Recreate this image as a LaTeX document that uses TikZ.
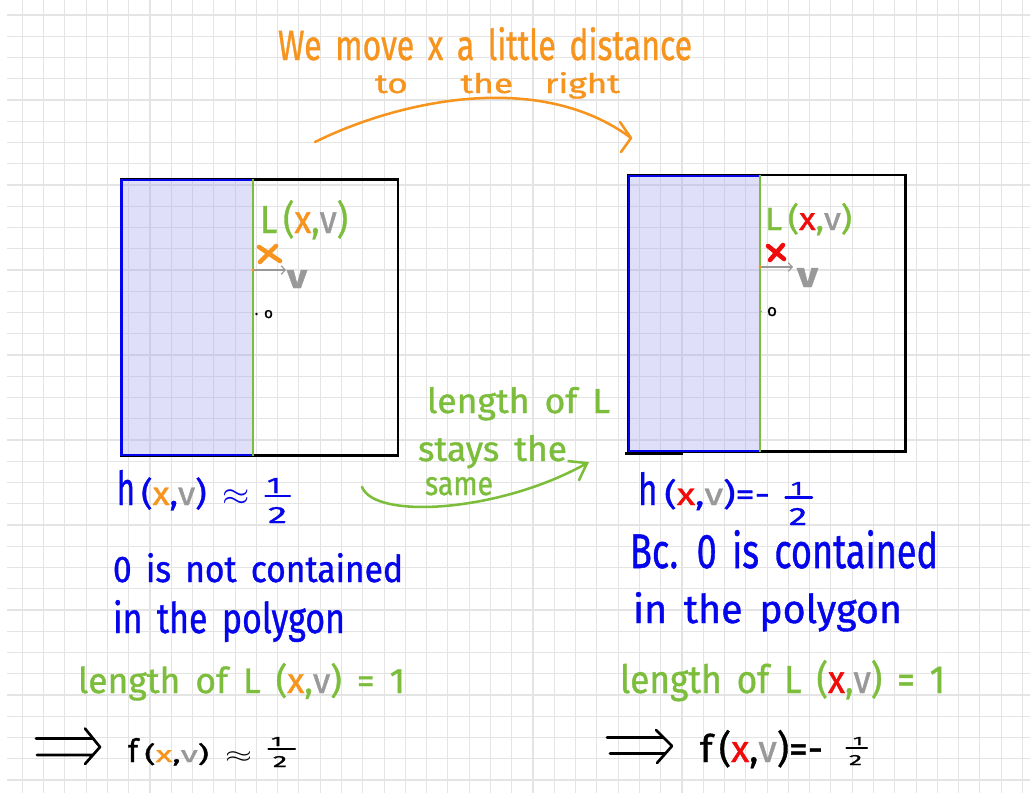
\documentclass[tikz,border=0pt]{standalone}
\usepackage{fontspec}
\usepackage{graphicx}
\usetikzlibrary{arrows.meta}
\newfontfamily\hand[WordSpace=1.6, FakeBold=1]{Fira Sans}
\newlength\pxu \setlength\pxu{0.75pt}
\newcommand\fitt[3]{\resizebox{#1\pxu}{#2\pxu}{#3}}
\newcommand\smq[1]{\scalebox{0.92}[0.7]{#1}}
\definecolor{cOr}{RGB}{247,148,29}
\definecolor{cGr}{RGB}{124,190,60}
\definecolor{cBl}{RGB}{5,5,235}
\definecolor{cGy}{RGB}{153,153,153}
\definecolor{cRd}{RGB}{240,10,10}
\definecolor{cGrid}{RGB}{228,228,228}
\definecolor{cShade}{RGB}{160,160,240}
\begin{document}
\begin{tikzpicture}[x=0.75pt,y=-0.75pt,
  txt/.style={inner sep=0pt, outer sep=0pt, font=\hand},
  gridl/.style={draw=cGrid, line width=0.8pt},
  boxline/.style={draw=black, line width=1.6pt},
  blueline/.style={draw=cBl, line width=2.2pt},
  greenline/.style={draw=cGr, line width=1.5pt},
  shadefill/.style={fill=cShade, fill opacity=0.33},
  fracbar/.style={line width=1.8pt, line cap=round},
  implies/.style={draw=black, line width=2pt, line cap=round, line join=round},
  vecarrow/.style={draw=cGy, line width=0.9pt, -{Straight Barb[length=3pt,width=6.5pt]}},
  bigorange/.style={draw=cOr, line width=1.9pt, line cap=round, line join=round},
  biggreen/.style={draw=cGr, line width=1.9pt, line cap=round, line join=round, -{Straight Barb[length=12pt,width=17pt]}},
  crossmark/.style={line width=3.4pt, line cap=round}
]
\useasboundingbox (0,0) rectangle (1030,793);
\fill[white] (0,0) rectangle (1030,793);
% grid
\foreach \i in {0,...,47} {\draw[gridl] ({22.3+21.28*\i},0) -- ({22.3+21.28*\i},793);}
\foreach \j in {0,...,36} {\draw[gridl] (7,{15+21.25*\j}) -- (1030,{15+21.25*\j});}

% ---------- left square ----------
\draw[boxline] (121,179.5) rectangle (398,455.5);
\fill[shadefill] (121,179.5) rectangle (253,455.5);
\draw[blueline] (253,180) -- (121.5,180) -- (121.5,455) -- (253,455);
\draw[greenline] (253,179) -- (253,455.5);
\node[txt, anchor=base west, text=cGr] (LL) at (260,233) {\fitt{88}{33}{L\,(\textcolor{cOr}{x},\textcolor{cGy}{v})}};
\draw[crossmark, cOr] (259,247) -- (280,261) (276,246) -- (260,262);
\coordinate (la0) at (253,270);
\coordinate (la1) at (286,270);
\draw[vecarrow] (la0) -- (la1);
\fill[cOr] (la0) circle (1.6);
\node[txt, anchor=base west, text=cGy, font=\hand\bfseries] (Lv) at (287,288) {\fitt{20}{18}{v}};
\fill[black] (256.5,314) circle (1.4);
\node[txt, anchor=base west] (Lo) at (264,318) {\fitt{9}{8}{o}};

% ---------- right square ----------
\draw[boxline] (628,175) rectangle (905.5,451.5);
\fill[shadefill] (628,175) rectangle (760,451.5);
\draw[blueline] (760,176) -- (629,176) -- (629,451) -- (760,451);
\draw[greenline] (760,175) -- (760,451.5);
\draw[black, line width=2.4pt] (625,453.8) -- (683,453.8);
\node[txt, anchor=base west, text=cGr] (RL) at (765,230) {\fitt{87}{27}{L\,(\textcolor{cRd}{x},\textcolor{cGy}{v})}};
\draw[crossmark, cRd] (768,246) -- (784,259) (783,245) -- (770,260);
\coordinate (ra0) at (760,267);
\coordinate (ra1) at (793,267);
\draw[vecarrow] (ra0) -- (ra1);
\fill[cOr] (ra0) circle (1.6);
\node[txt, anchor=base west, text=cGy, font=\hand\bfseries] (Rv) at (797,287) {\fitt{21}{19}{v}};
\fill[cGy] (761,311.5) circle (1.1);
\node[txt, anchor=base west] (Ro) at (767,316) {\fitt{10}{9}{o}};

% ---------- top orange note and arc ----------
\node[txt, anchor=base west, text=cOr] (t1) at (278,60) {\fitt{414}{33}{We move x a little distance}};
\node[txt, anchor=base west, text=cOr] (t2) at (375,93) {\fitt{245}{21}{to\hspace{1.5em}the\hspace{0.9em}right}};
\coordinate (o1) at (315,142);
\coordinate (o2) at (631,138);
\draw[bigorange] (o1) .. controls (400,100) and (540,70) .. (o2)
  ++(-11,-16) -- (o2) -- ++(-10,14);

% ---------- middle green note and arc ----------
\node[txt, anchor=base west, text=cGr] (g1) at (427,413) {\fitt{183}{26}{length of L}};
\node[txt, anchor=base west, text=cGr] (g2) at (418,461) {\fitt{149}{26}{stays the}};
\node[txt, anchor=base west, text=cGr] (g3) at (425,495) {\fitt{68}{18}{same}};
\coordinate (gA) at (362,487);
\coordinate (gB) at (589,462);
\draw[biggreen] (gA) .. controls (375,520) and (500,512) .. (gB);

% ---------- left column texts ----------
\node[txt, anchor=base west, text=cBl] (Lh) at (117,505) {\fitt{133}{35}{\scalebox{0.8}[1]{h}\,\smq{(\textcolor{cOr}{x},\textcolor{cGy}{v})}\ \smq{$\approx$}}};
\node[txt, anchor=base west, text=cBl] (Lh1) at (267,493) {\fitt{14}{15}{1}};
\node[txt, anchor=base west, text=cBl] (Lh2) at (268,523) {\fitt{19}{16}{2}};
\draw[fracbar, cBl] (265.5,496) -- (290,496);
\node[txt, anchor=base west, text=cBl] (Lc1) at (113,582) {\fitt{290}{29}{0 is not contained}};
\node[txt, anchor=base west, text=cBl] (Lc2) at (113,633) {\fitt{232}{33}{in the polygon}};
\node[txt, anchor=base west, text=cGr] (Llen) at (78,693) {\fitt{327}{30}{length of L (\textcolor{cOr}{x},\textcolor{cGy}{v}) = 1}};
\coordinate (Li0) at (36,738.5);
\coordinate (Li1) at (37,755);
\coordinate (Lit) at (100,747);
\draw[implies] (Li0) -- (92,738.5) (Li1) -- (93,755) (85,728.5) -- (Lit) -- (85,764);
\node[txt, anchor=base west] (Lf) at (128,762) {\fitt{124}{24}{\scalebox{0.8}[1]{f}\,\smq{(\textcolor{cOr}{x},\textcolor{cGy}{v})}\ \smq{$\approx$}}};
\node[txt, anchor=base west] (Lf1) at (271,746) {\fitt{11}{9}{1}};
\node[txt, anchor=base west] (Lf2) at (273,767) {\fitt{14}{11}{2}};
\draw[fracbar, black] (268.5,749) -- (295,749);

% ---------- right column texts ----------
\node[txt, anchor=base west, text=cBl] (Rh) at (638,505) {\fitt{132}{33}{\scalebox{0.8}[1]{h}\,\smq{(\textcolor{cRd}{x},\textcolor{cGy}{v})=-}}};
\node[txt, anchor=base west, text=cBl] (Rh1) at (791,495) {\fitt{12}{13}{1}};
\node[txt, anchor=base west, text=cBl] (Rh2) at (789,525) {\fitt{18}{17}{2}};
\draw[fracbar, cBl] (785.5,497.5) -- (812,497.5);
\node[txt, anchor=base west, text=cBl] (Rc1) at (630,568) {\fitt{308}{38}{Bc. 0 is contained}};
\node[txt, anchor=base west, text=cBl] (Rc2) at (633,623) {\fitt{269}{31}{in the polygon}};
\node[txt, anchor=base west, text=cGr] (Rlen) at (620,693) {\fitt{325}{33}{length of L (\textcolor{cRd}{x},\textcolor{cGy}{v}) = 1}};
\coordinate (Ri0) at (607,737.5);
\coordinate (Ri1) at (610,753.5);
\coordinate (Rit) at (672,746);
\draw[implies] (Ri0) -- (663,737.5) (Ri1) -- (665,753.5) (656,730) -- (Rit) -- (657,763);
\node[txt, anchor=base west] (Rf) at (700,762) {\fitt{123}{32}{f\,(\textcolor{cRd}{x},\textcolor{cGy}{v})=-}};
\node[txt, anchor=base west] (Rf1) at (853,745) {\fitt{10}{8}{1}};
\node[txt, anchor=base west] (Rf2) at (849,765) {\fitt{13}{10}{2}};
\draw[fracbar, black] (846.5,748) -- (867,748);
\end{tikzpicture}
\end{document}
